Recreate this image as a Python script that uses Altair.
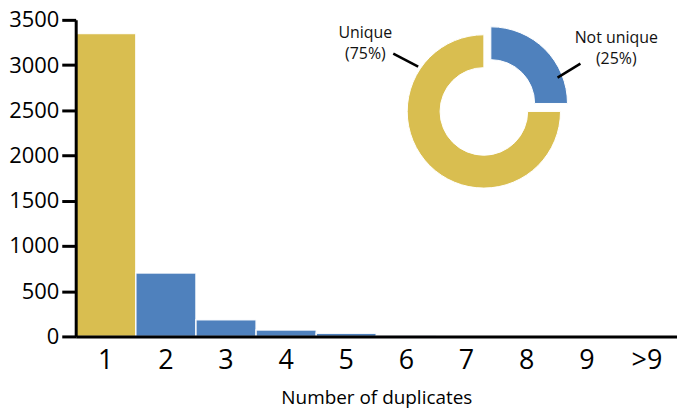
import altair as alt
import pandas as pd

# Bar data
duplicates = ["1", "2", "3", "4", "5", "6", "7", "8", "9", ">9"]
counts = [3350, 700, 185, 70, 35, 12, 6, 4, 2, 5]

# Donut data
categories = ["Not unique", "Unique"]
percents = [25, 75]

YELLOW = "#D9BE50"
BLUE = "#4F81BD"
FONT = "Open Sans"

bars_df = pd.DataFrame({"dup": duplicates, "count": counts})
donut_df = pd.DataFrame({"category": categories, "pct": percents, "order": [0, 1]})

color_scale = alt.Scale(domain=["Unique", "Not unique"], range=[YELLOW, BLUE])

bars = alt.Chart(bars_df).transform_calculate(
    kind="datum.dup == '1' ? 'Unique' : 'Not unique'"
).mark_bar(stroke="white", strokeWidth=1.5, strokeOpacity=0.9).encode(
    x=alt.X("dup:N", sort=duplicates,
            scale=alt.Scale(paddingInner=0, paddingOuter=0),
            axis=alt.Axis(title="Number of duplicates", labelAngle=0, ticks=False,
                          labelFontSize=27, labelPadding=11, labelFont=FONT,
                          labelColor="black", titleFont=FONT, titleFontSize=19,
                          titleFontWeight="normal", titleColor="black",
                          titlePadding=15, domainColor="black", domainWidth=3,
                          zindex=1)),
    y=alt.Y("count:Q",
            scale=alt.Scale(domain=[0, 3500], nice=False),
            axis=alt.Axis(title=None, values=[0, 500, 1000, 1500, 2000, 2500, 3000, 3500],
                          format="d",
                          grid=False, tickSize=14, tickWidth=3, tickColor="black",
                          domainColor="black", domainWidth=3, labelFontSize=22,
                          labelFont=FONT, labelColor="black", labelPadding=3,
                          zindex=1)),
    color=alt.Color("kind:N", scale=color_scale, legend=None),
)

donut_base = alt.Chart(donut_df).transform_stack(
    stack="pct", groupby=[], as_=["t0", "t1"], sort=[alt.SortField("order")]
)

theta_scale = alt.Scale(domain=[0, 100], range=[0, 6.283185307])


def arc_layer(cat, cx, cy):
    return donut_base.transform_filter(alt.datum.category == cat).mark_arc(
        innerRadius=44, outerRadius=77, stroke="white", strokeWidth=1
    ).encode(
        theta=alt.Theta("t0:Q", scale=theta_scale),
        theta2="t1:Q",
        color=alt.Color("category:N", scale=color_scale, legend=None),
        x=alt.value(cx),
        y=alt.value(cy),
    )


def label_layer(cat, cx, cy):
    return alt.Chart(donut_df).transform_filter(alt.datum.category == cat).transform_calculate(
        label="datum.category + '\\n(' + datum.pct + '%)'"
    ).mark_text(
        font=FONT, fontSize=16, color="#111111", align="center", baseline="middle",
        lineBreak="\n", lineHeight=21
    ).encode(text="label:N", x=alt.value(cx), y=alt.value(cy))


def leader(cat, x1, y1, x2, y2):
    return alt.Chart(donut_df).transform_filter(alt.datum.category == cat).mark_rule(
        color="black", strokeWidth=2.5
    ).encode(x=alt.value(x1), y=alt.value(y1), x2=alt.value(x2), y2=alt.value(y2))


TOP = 11  # plot area starts a little lower so the top tick label stays inside the page
chart = alt.layer(
    bars,
    arc_layer("Unique", 410, 102 - TOP + 1),
    arc_layer("Not unique", 417, 94 - TOP + 1),
    label_layer("Unique", 291, 23 - TOP + 1),
    label_layer("Not unique", 543, 28 - TOP + 1),
    leader("Unique", 319, 44 - TOP + 1, 344, 57 - TOP + 1),
    leader("Not unique", 484, 68 - TOP + 1, 507, 54 - TOP + 1),
).properties(
    width=604, height=318,
    autosize=alt.AutoSizeParams(type="none"),
    padding={"left": 68, "top": TOP, "right": 0, "bottom": 72},
).configure_view(stroke=None)

chart.save("out.html", embed_options={"renderer": "svg", "actions": False})
